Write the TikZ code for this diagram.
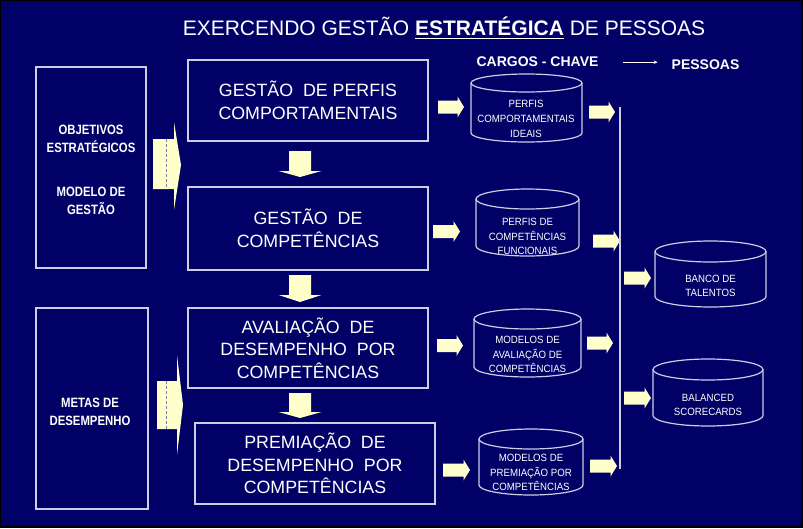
\documentclass[tikz,border=0pt]{standalone}
\usepackage{fontspec}
\setmainfont{Liberation Sans}
\newfontfamily\narrowfont{Liberation Sans}[FakeStretch=0.84]
\newfontfamily\cylfont{Liberation Sans}[FakeStretch=0.92]
\usetikzlibrary{arrows.meta,calc}
\definecolor{navy}{RGB}{0,0,102}
\definecolor{edgec}{RGB}{205,205,230}
\definecolor{arrowfill}{RGB}{255,255,204}
\definecolor{dashc}{RGB}{120,120,175}
\newcommand\myul[1]{\setbox0\hbox{#1}\rlap{\rule[-4.4pt]{\wd0}{1.8pt}}\box0}
% right block arrow: x0, x1, yc
\newcommand\rblock[3]{\fill[arrowfill] (#1,#3-6.5) -- (#2-6.5,#3-6.5) -- (#2-6.5,#3-10.5) -- (#2,#3) -- (#2-6.5,#3+10.5) -- (#2-6.5,#3+6.5) -- (#1,#3+6.5) -- cycle;}
% down block arrow: ytop, yhead, ytip
\newcommand\dblock[3]{\fill[arrowfill] (289,#1) -- (311,#1) -- (311,#2) -- (321.5,#2) -- (300,#3) -- (278.5,#2) -- (289,#2) -- cycle;}
% big arrow: xl, xb, xt, recttop, rectbot, headtop, headbot, yc
\newcommand\bigblock[8]{\fill[arrowfill] (#1,#4) -- (#2,#4) -- (#2,#6) -- (#3,#8) -- (#2,#7) -- (#2,#5) -- (#1,#5) -- cycle;
 \draw[dashc, line width=1.5pt, dash pattern=on 3pt off 2pt] (166.7,#4) -- (166.7,#5);}
% cylinder: left, right, top, bottom, ry
\newcommand\cyl[5]{\draw[cylline] (#1,#3+#5) -- (#1,#4-#5) arc[start angle=180, end angle=0, x radius={(#2-#1)/2}, y radius=#5] -- (#2,#3+#5);
 \draw[cylline] ({(#1+#2)/2},#3+#5) ellipse[x radius={(#2-#1)/2}, y radius=#5];}
\tikzset{
 mainbox/.style={draw=edgec, line width=1.5pt, text=white, align=center, inner sep=0pt, minimum width=240pt, font=\fontsize{17.8}{22.5}\selectfont},
 sidebox/.style={draw=edgec, line width=1.5pt, inner sep=0pt},
 sidetext/.style={text=white, align=center, inner sep=0pt, font=\narrowfont\bfseries\fontsize{13.5}{18}\selectfont},
 cyltext/.style={text=white, align=center, inner sep=0pt, font=\cylfont\fontsize{10.5}{14.7}\selectfont},
 cylline/.style={draw=edgec, line width=1.2pt},
 headtext/.style={text=white, anchor=base, inner sep=0pt, font=\bfseries\fontsize{14}{16}\selectfont}
}
\begin{document}
\begin{tikzpicture}[x=1pt, y=-1pt]
\useasboundingbox (0,0) rectangle (803,528);
\fill[black] (0,0) rectangle (803,528);
\fill[navy] (1,1) rectangle (800.5,525.5);
% title
\node[anchor=base, text=white, inner sep=0pt, font=\fontsize{21}{25}\selectfont] (title) at (444,35) {EXERCENDO GESTÃO \textbf{\myul{ESTRATÉGICA}} DE PESSOAS};
% headers
\node[headtext] (cargos) at (537.5,66) {CARGOS - CHAVE};
\node[headtext] (pessoas) at (705.5,69) {PESSOAS};
\draw[white, line width=0.8pt, -{Stealth[length=4pt, width=3.5pt]}] (cargos.east) ++(24,1) -- ++(35,0);
% left boxes
\node[sidebox, minimum width=110pt, minimum height=201pt] (obj) at (91,167.5) {};
\node[sidetext] (objtxt) at (91,170) {OBJETIVOS\\ESTRATÉGICOS\\[26pt]MODELO DE\\GESTÃO};
\node[sidebox, minimum width=112pt, minimum height=201pt] (metas) at (92,408.5) {};
\node[sidetext] (metastxt) at (90,411.5) {METAS DE\\DESEMPENHO};
% big arrows
\bigblock{153}{174}{181}{139}{189}{122}{210}{165}
\bigblock{157}{177}{183}{381}{429}{355}{455}{405}
% main boxes
\node[mainbox, minimum height=81pt] (b1) at (308,100.5) {GESTÃO~ DE PERFIS\\COMPORTAMENTAIS};
\node[mainbox, minimum height=83pt] (b2) at (308,228.5) {GESTÃO~ DE\\COMPETÊNCIAS};
\node[mainbox, minimum height=80pt] (b3) at (308,348) {AVALIAÇÃO~ DE\\DESEMPENHO~ POR\\COMPETÊNCIAS};
\node[mainbox, minimum height=81pt] (b4) at (315,463.5) {PREMIAÇÃO~ DE\\DESEMPENHO~ POR\\COMPETÊNCIAS};
% down arrows
\dblock{151}{171}{177}
\dblock{275}{295}{302}
\dblock{393}{412}{418}
% cylinders
\cyl{471}{582}{74}{142}{9}
\cyl{476}{579}{189}{256}{10}
\cyl{474}{581}{309}{377}{10}
\cyl{479}{583}{429}{495}{10}
\cyl{655}{766}{241}{307}{10.5}
\cyl{653}{763}{359}{426}{10.5}
\node[cyltext] (c1) at (526,119) {PERFIS\\COMPORTAMENTAIS\\IDEAIS};
\node[cyltext] (c2) at (527.5,236.5) {PERFIS DE\\COMPETÊNCIAS\\FUNCIONAIS};
\node[cyltext] (c3) at (527.5,354.5) {MODELOS DE\\AVALIAÇÃO DE\\COMPETÊNCIAS};
\node[cyltext] (c4) at (531,472.5) {MODELOS DE\\PREMIAÇÃO POR\\COMPETÊNCIAS};
\node[cyltext] (c5) at (710.5,286) {BANCO DE\\TALENTOS};
\node[cyltext] (c6) at (708,405) {BALANCED\\SCORECARDS};
% small arrows
\rblock{438}{464}{107}
\rblock{433}{460}{231.5}
\rblock{437}{463}{345.5}
\rblock{443}{470}{470}
\rblock{589}{615}{112}
\rblock{593}{620}{241}
\rblock{587}{613}{343}
\rblock{590}{617}{466}
\rblock{624}{651}{278}
\rblock{624}{651}{398}
% vertical line
\coordinate (vtop) at (620,107);
\coordinate (vbot) at (620,469);
\draw[edgec, line width=1.5pt] (vtop) -- (vbot);
\end{tikzpicture}
\end{document}
